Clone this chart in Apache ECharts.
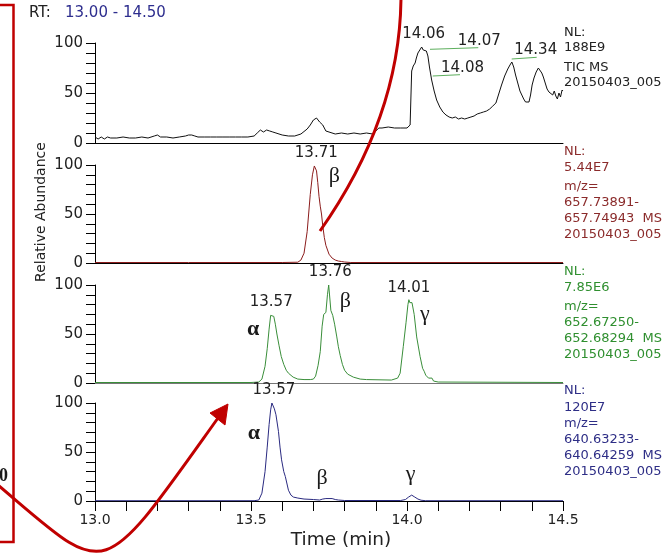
<!DOCTYPE html>
<html><head><meta charset="utf-8">
<script src="https://cdn.jsdelivr.net/npm/echarts@6/dist/echarts.min.js"></script>
<style>html,body{margin:0;padding:0;background:#fff}#c{width:667px;height:555px}</style>
</head><body><div id="c"></div>
<script>
// ---------------- data ----------------
const xTickLabels = [13.0, 13.5, 14.0, 14.5];
const yTickLabels = [0, 50, 100];
const rtRange = '13.00 - 14.50';

const ticTrace = [[13.00,6],[13.01,4],[13.02,6],[13.03,4],[13.04,6],[13.05,5],[13.07,5],[13.09,6],[13.11,5],[13.13,5],[13.15,6],[13.17,5],[13.19,7],[13.20,8],[13.21,6],[13.23,6],[13.25,5],[13.27,6],[13.29,7],[13.30,8],[13.31,8],[13.32,7],[13.33,6],[13.35,6],[13.37,6],[13.39,6],[13.41,6],[13.43,6],[13.45,6],[13.47,6],[13.49,6],[13.51,7],[13.52,10],[13.53,13],[13.54,11],[13.55,13],[13.56,12],[13.57,11],[13.58,10],[13.60,8],[13.62,7],[13.64,7],[13.66,9],[13.68,14],[13.69,18],[13.70,23],[13.71,25],[13.72,21],[13.73,18],[13.74,12],[13.75,11],[13.77,9],[13.79,10],[13.81,9],[13.83,10],[13.85,9],[13.87,10],[13.89,9],[13.90,12],[13.91,15],[13.92,15],[13.94,16],[13.96,15],[13.98,15],[14.00,15],[14.01,18],[14.015,72],[14.02,77],[14.026,80],[14.03,85],[14.035,90],[14.04,92],[14.047,96],[14.052,93],[14.058,95],[14.062,92],[14.067,87],[14.072,76],[14.079,63],[14.087,52],[14.095,43],[14.105,36],[14.115,31],[14.125,28],[14.135,26],[14.145,25],[14.155,26],[14.165,24],[14.175,25],[14.185,24],[14.195,25],[14.205,26],[14.215,27],[14.225,29],[14.235,30],[14.245,31],[14.255,32],[14.265,34],[14.275,37],[14.285,40],[14.293,48],[14.303,58],[14.313,67],[14.323,74],[14.33,78],[14.336,81],[14.342,76],[14.348,68],[14.355,60],[14.362,52],[14.368,48],[14.374,44],[14.380,41],[14.386,40],[14.391,41],[14.396,48],[14.401,58],[14.407,65],[14.414,71],[14.421,75],[14.427,73],[14.432,70],[14.437,66],[14.443,60],[14.449,54],[14.455,51],[14.461,49],[14.467,48],[14.472,52],[14.477,47],[14.482,44],[14.487,50],[14.492,46],[14.497,53],[14.50,52]];

const mz657Trace = [[13.00,0.5],[13.30,0.5],[13.60,0.5],[13.65,0.8],[13.66,3],[13.67,10],[13.68,32],[13.69,70],[13.697,90],[13.703,99],[13.706,100],[13.71,94],[13.714,82],[13.718,68],[13.722,58],[13.726,50],[13.73,38],[13.735,26],[13.74,18],[13.75,9],[13.76,5],[13.77,3],[13.78,2],[13.79,1.5],[13.80,1],[13.82,0.5],[14.00,0.5],[14.50,0.5]];

const mz652Trace = [[13.00,0.5],[13.50,0.5],[13.525,1],[13.535,4],[13.545,17],[13.552,35],[13.558,55],[13.563,69],[13.568,70],[13.573,68],[13.578,60],[13.583,50],[13.59,38],[13.597,27],[13.605,19],[13.613,13],[13.62,10],[13.635,6],[13.65,4],[13.67,3.5],[13.69,3.5],[13.70,4],[13.707,7],[13.715,18],[13.722,32],[13.728,58],[13.733,70],[13.74,72],[13.745,90],[13.749,100],[13.753,100],[13.756,74],[13.762,69],[13.768,60],[13.775,47],[13.78,37],[13.786,28],[13.793,19],[13.80,13],[13.81,9],[13.828,6],[13.85,4],[13.87,3.5],[13.95,3],[13.97,5],[13.978,10],[13.988,37],[13.997,62],[14.003,80],[14.006,85],[14.009,82],[14.012,84],[14.016,82],[14.019,83],[14.023,70],[14.031,47],[14.042,27],[14.05,15],[14.055,12],[14.06,8],[14.063,6],[14.066,9],[14.069,5],[14.072,7],[14.075,4],[14.08,5],[14.085,2],[14.10,1],[14.50,0.5]];

const mz640Trace = [[13.00,0.3],[13.51,0.3],[13.525,1],[13.535,8],[13.545,30],[13.552,55],[13.558,78],[13.563,93],[13.567,100],[13.571,98],[13.575,94],[13.58,88],[13.588,71],[13.593,55],[13.598,42],[13.605,30],[13.61,25],[13.62,11],[13.628,6],[13.636,4],[13.65,3],[13.67,2],[13.70,1.5],[13.72,1],[13.73,2],[13.74,2.5],[13.76,2.5],[13.77,1.5],[13.78,1],[13.80,0.5],[13.98,0.5],[13.995,1.5],[14.005,4],[14.015,6],[14.025,4],[14.035,2],[14.045,0.8],[14.06,0.3],[14.50,0.3]];

// peak annotations: [text, time, value]
const ticPeaks   = [['14.06',14.047,96],['14.07',14.2285,95.3],['14.08',14.1699,68.3],['14.34',14.4157,85.7]];
const mz657Peaks = [['13.71',13.706,100],['β',13.706,100]];
const mz652Peaks = [['13.57',13.568,70],['α',13.568,70],['13.76',13.751,100],['β',13.751,100],['14.01',14.006,85],['γ',14.006,85]];
const mz640Peaks = [['13.57',13.567,100],['α',13.567,100],['β',13.75,2.5],['γ',14.015,6]];
// leader lines in TIC: [t1, v1, t2, v2]
const ticLeaders = [[14.0737,93.7,14.2285,95.3],[14.0824,67,14.1699,68.3],[14.3356,84,14.4157,85.7]];

const ticInfo   = ['NL:','188E9','TIC MS','20150403_005'];
const mz657Info = ['NL:','5.44E7','m/z=','657.73891-','657.74943  MS','20150403_005'];
const mz652Info = ['NL:','7.85E6','m/z=','652.67250-','652.68294  MS','20150403_005'];
const mz640Info = ['NL:','120E7','m/z=','640.63233-','640.64259  MS','20150403_005'];

// ---------------- layout / style ----------------
const FONT = 'DejaVu Sans';
const SERIF = '"Liberation Serif","DejaVu Serif",serif';
const panels = [
  {top:43, h:100, trace:ticTrace, line:'#111111', txt:'#222222', info:ticInfo, infoY:[32.5,47.5,67.5,83], base:'#000', peaks:ticPeaks,
   offs:[[2,-13],[1,-6.5],[2.5,-7],[-1,-7]]},
  {top:165, h:98, trace:mz657Trace, line:'#8B1C1C', txt:'#8B2B2B', info:mz657Info, infoY:[151.5,168,187,202.5,219,235], base:'#000', peaks:mz657Peaks,
   offs:[[1,-12],[19,11]]},
  {top:285, h:98, trace:mz652Trace, line:'#3A8E3A', txt:'#2F8F2F', info:mz652Info, infoY:[271.5,288,307,322.5,339,355], base:'#777', peaks:mz652Peaks,
   offs:[[-1,-12],[-19,15],[1,-13],[16,16],[0,-12],[16,15]]},
  {top:403, h:98, trace:mz640Trace, line:'#2A2A80', txt:'#2E2E86', info:mz640Info, infoY:[391,407.5,424,439.5,456,471.5], base:'#000', peaks:mz640Peaks,
   offs:[[2,-12.5],[-18,30],[-7,-20],[-1,-21]]}
];

const grids=[], xAxes=[], yAxes=[], series=[], graphic=[];
panels.forEach((p,i)=>{
  const last = i === panels.length-1;
  grids.push({left:95, right:104, top:p.top, height:p.h});
  xAxes.push({type:'value', gridIndex:i, min:13, max:14.5, interval:0.1,
    axisLine:{show:true, onZero:false, lineStyle:{color:p.base, width:1}},
    axisTick:{show:last, length:10, lineStyle:{color:'#000'}},
    axisLabel:{show:last, margin:12, fontSize:14, fontFamily:FONT, color:'#222', interval:0, hideOverlap:false,
      formatter:v=>{const r=Math.round(v*10)/10; return xTickLabels.some(x=>Math.abs(x-r)<1e-6)? r.toFixed(1):'';}},
    splitLine:{show:false}});
  yAxes.push({type:'value', gridIndex:i, min:0, max:100, interval:10,
    axisLine:{show:true, lineStyle:{color:'#000', width:1}},
    axisTick:{show:true, length:9, lineStyle:{color:'#000'}},
    axisLabel:{margin:12, fontSize:15, fontFamily:FONT, color:'#222', interval:0, hideOverlap:false,
      formatter:v=>{const r=Math.round(v); return yTickLabels.includes(r)? String(r):'';}},
    splitLine:{show:false}});
  const mpData = p.peaks.map((a,k)=>{
    const greek = /[αβγ]/.test(a[0]);
    return {coord:[a[1],a[2]], value:a[0],
      label:{show:true, position:'inside', formatter:a[0], offset:p.offs[k], color: greek?'#1a1a1a':'#222',
        fontSize: greek?22:15, fontFamily: greek?SERIF:FONT, fontWeight: a[0]==='α'?'bold':'normal'}};
  });
  const s = {type:'line', xAxisIndex:i, yAxisIndex:i, data:p.trace, showSymbol:false, symbol:'none', silent:true,
    lineStyle:{color:p.line, width:1}, itemStyle:{color:p.line}, z:3,
    markPoint:{symbol:'circle', symbolSize:1, itemStyle:{color:'rgba(0,0,0,0)'}, silent:true, animation:false, data:mpData}};
  if (i===0) {
    s.markLine = {symbol:['none','none'], silent:true, animation:false, label:{show:false},
      lineStyle:{color:'#5DAF5D', width:1, type:'solid'},
      data: ticLeaders.map(l=>[{coord:[l[0],l[1]]},{coord:[l[2],l[3]]}])};
  }
  series.push(s);
  p.info.forEach((t,k)=>{
    graphic.push({type:'text', x:564, y:p.infoY[k], silent:true,
      style:{text:t, fill:p.txt, fontSize:13, fontFamily:FONT, align:'left', verticalAlign:'middle'}});
  });
});

// header and axis titles
graphic.push({type:'text', x:29, y:13, style:{text:'RT:', fill:'#222', fontSize:15, fontFamily:FONT, align:'left', verticalAlign:'middle'}});
graphic.push({type:'text', x:65, y:13, style:{text:rtRange, fill:'#2E2E8E', fontSize:15, fontFamily:FONT, align:'left', verticalAlign:'middle'}});
graphic.push({type:'text', x:41, y:212, rotation:Math.PI/2, style:{text:'Relative Abundance', fill:'#222', fontSize:14, fontFamily:FONT, align:'center', verticalAlign:'middle'}});
graphic.push({type:'text', x:341, y:540, style:{text:'Time (min)', fill:'#222', fontSize:18.5, fontFamily:FONT, align:'center', verticalAlign:'middle'}});

// red overlay decorations
const RED = '#C00000';
graphic.push({type:'polyline', z:100, silent:true, shape:{points:[[0,5],[13.5,5],[13.5,542],[0,542]]}, style:{stroke:RED, lineWidth:2.5, fill:null}});
graphic.push({type:'text', x:-1, y:476, z:100, style:{text:'0', fill:'#1a1a1a', fontSize:18, fontWeight:'bold', fontFamily:SERIF, align:'left', verticalAlign:'middle'}});
graphic.push({type:'bezierCurve', z:100, silent:true, shape:{x1:401,y1:-5,cpx1:401,cpy1:80,cpx2:370,cpy2:160,x2:320,y2:231}, style:{stroke:RED, lineWidth:3, fill:null}});
graphic.push({type:'bezierCurve', z:100, silent:true, shape:{x1:-2,y1:485,cpx1:110,cpy1:580,cpx2:98,cpy2:586,x2:218,y2:418}, style:{stroke:RED, lineWidth:3, fill:null}});
graphic.push({type:'polygon', z:100, silent:true, shape:{points:[[228,404],[210,413],[225,425]]}, style:{fill:RED, stroke:RED, lineWidth:1}});

const chart = echarts.init(document.getElementById('c'), null, {renderer:'canvas'});
chart.setOption({animation:false, backgroundColor:'#fff', textStyle:{fontFamily:FONT},
  grid:grids, xAxis:xAxes, yAxis:yAxes, series:series, graphic:graphic});
</script></body></html>
